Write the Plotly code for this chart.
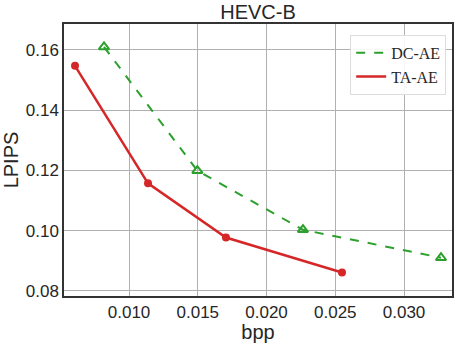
import plotly.graph_objects as go

# data
dc_bpp = [0.00818, 0.01497, 0.02265, 0.03269]
dc_lpips = [0.1610, 0.1199, 0.1003, 0.0910]
ta_bpp = [0.00607, 0.01138, 0.01705, 0.02549]
ta_lpips = [0.1547, 0.1157, 0.0977, 0.0861]
x_ticks = [0.010, 0.015, 0.020, 0.025, 0.030]
y_ticks = [0.08, 0.10, 0.12, 0.14, 0.16]

green = "#2ca02c"
red = "#d62728"

fig = go.Figure()
fig.add_trace(go.Scatter(
    x=dc_bpp, y=dc_lpips, mode="lines+markers", showlegend=False,
    line=dict(color=green, width=2, dash="dash"),
    marker=dict(symbol="triangle-up-open", size=9, color=green, line=dict(width=2)),
))
fig.add_trace(go.Scatter(
    x=ta_bpp, y=ta_lpips, mode="lines+markers", showlegend=False,
    line=dict(color=red, width=2.5),
    marker=dict(symbol="circle", size=8, color=red),
))
# legend entries show just the lines
fig.add_trace(go.Scatter(x=[None], y=[None], name="DC-AE", mode="lines",
                         line=dict(color=green, width=2, dash="dash")))
fig.add_trace(go.Scatter(x=[None], y=[None], name="TA-AE", mode="lines",
                         line=dict(color=red, width=2.5)))

axis_common = dict(
    showgrid=True, gridcolor="#b0b0b0", gridwidth=1,
    showline=True, linecolor="#333333", linewidth=1.5, mirror=True,
    ticks="", zeroline=False, automargin=False,
    tickfont=dict(family="Liberation Sans, Arial", size=17, color="#262626"),
    title_font=dict(family="Liberation Sans, Arial", size=20, color="#262626"),
)

fig.update_layout(
    width=458, height=343,
    margin=dict(l=64, r=6, t=24, b=47),
    paper_bgcolor="white", plot_bgcolor="white",
    title=dict(text="HEVC-B", xref="paper", x=0.5, xanchor="center", y=0.985, yanchor="top",
               font=dict(family="Liberation Sans, Arial", size=20, color="#262626")),
    legend=dict(
        x=0.985, y=0.96, xanchor="right", yanchor="top",
        bgcolor="rgba(255,255,255,0.9)", bordercolor="#dddddd", borderwidth=1,
        font=dict(family="Liberation Serif, Times New Roman", size=16, color="#262626"),
    ),
)
fig.update_xaxes(range=[0.00527, 0.03349], tickvals=x_ticks,
                 ticktext=["%.3f" % v for v in x_ticks], title=dict(text="bpp"),
                 **axis_common)
fig.update_yaxes(range=[0.0783, 0.1686], tickvals=y_ticks,
                 ticktext=["%.2f" % v for v in y_ticks], title=dict(text="LPIPS"),
                 **axis_common)

# the page body has a default 8px margin, drop it so the figure fills the window
fig.write_html("out.html", config={"displayModeBar": False},
               post_script="document.body.style.margin='0';")
